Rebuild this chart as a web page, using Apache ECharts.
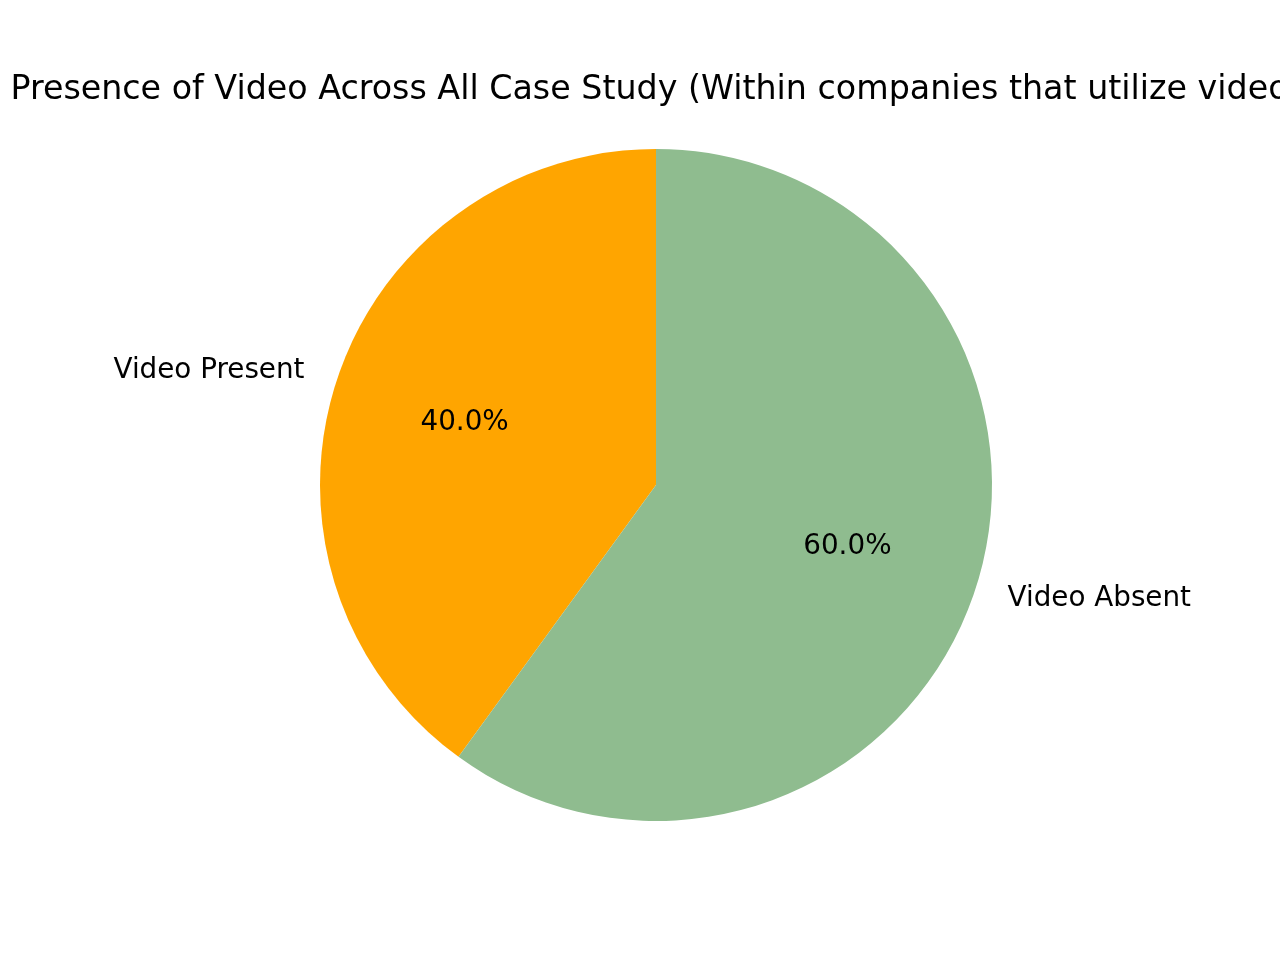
<!DOCTYPE html>
<html lang="en">

<head>
    <meta charset="UTF-8">
    <title>Presence of Video</title>
    <script src="https://cdn.jsdelivr.net/npm/echarts@6/dist/echarts.min.js"></script>
    <style>
        html, body { margin: 0; padding: 0; background: #fff; }
    </style>
</head>

<body>
    <div id="box" style="width: 1280px; height: 960px; background-color: white;"></div>
    <script>
        var chartTitle = 'Presence of Video Across All Case Study (Within companies that utilize video)';
        var categories = ['Video Present', 'Video Absent'];
        var values = [40, 60];
        var colors = ['#FFA500', '#8FBC8F'];

        var FONT = 'DejaVu Sans';
        var R = 336;              // pie radius in px
        var center = [656, 485];

        var pieData = categories.map(function (name, i) {
            return { name: name, value: values[i], itemStyle: { color: colors[i] } };
        });
        // transparent copy, only used to place the percent labels near 0.6 R
        var pctData = categories.map(function (name, i) {
            return { name: name, value: values[i], itemStyle: { color: 'rgba(0,0,0,0)' } };
        });

        var myChart = echarts.init(document.getElementById('box'));
        myChart.setOption({
            animation: false,
            title: {
                text: chartTitle,
                left: center[0],
                top: 74,
                padding: 0,
                textAlign: 'center',
                textStyle: { fontFamily: FONT, fontSize: 33.3, fontWeight: 'normal', color: '#000', lineHeight: 33 }
            },
            series: [
                {
                    type: 'pie',
                    center: center,
                    radius: [0, R],
                    startAngle: 90,
                    clockwise: false,
                    avoidLabelOverlap: false,
                    silent: true,
                    itemStyle: { borderWidth: 0 },
                    label: {
                        show: true,
                        position: 'outside',
                        distanceToLabelLine: 0,
                        fontFamily: FONT,
                        fontSize: 27.8,
                        color: '#000',
                        formatter: '{b}'
                    },
                    labelLine: { show: false, length: R * 0.1, length2: 0 },
                    data: pieData
                },
                {
                    type: 'pie',
                    center: center,
                    radius: [0, R * 1.18],
                    startAngle: 90,
                    clockwise: false,
                    avoidLabelOverlap: false,
                    silent: true,
                    itemStyle: { borderWidth: 0 },
                    label: {
                        show: true,
                        position: 'inside',
                        fontFamily: FONT,
                        fontSize: 27.8,
                        color: '#000',
                        formatter: function (p) {
                            return p.percent.toFixed(1) + '%';
                        }
                    },
                    labelLine: { show: false },
                    data: pctData
                }
            ]
        });
    </script>
</body>

</html>
